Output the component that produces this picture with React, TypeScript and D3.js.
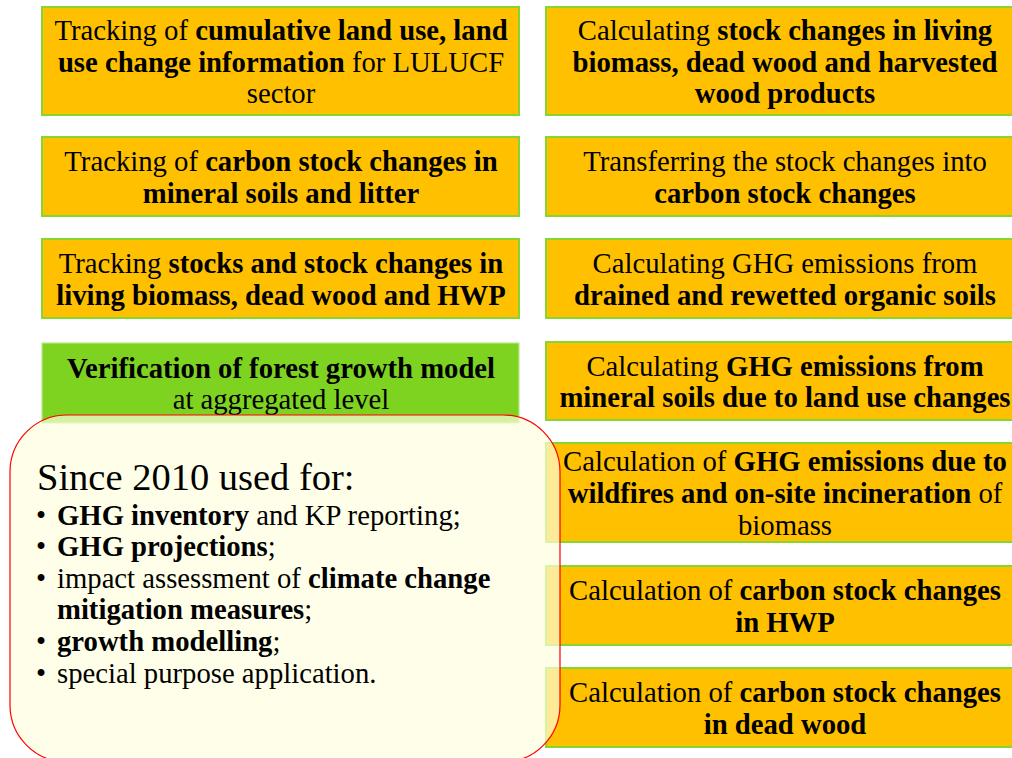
import React from "react";
import * as d3 from "d3";

type Seg = [string, boolean];

const leftTexts: Seg[][][] = [
  [
    [["Tracking of ", false], ["cumulative land use, land", true]],
    [["use change information", true], [" for LULUCF", false]],
    [["sector", false]],
  ],
  [
    [["Tracking of ", false], ["carbon stock changes in", true]],
    [["mineral soils and litter", true]],
  ],
  [
    [["Tracking ", false], ["stocks and stock changes in", true]],
    [["living biomass, dead wood and HWP", true]],
  ],
  [
    [["Verification of forest growth model", true]],
    [["at aggregated level", false]],
  ],
];

const rightTexts: Seg[][][] = [
  [
    [["Calculating ", false], ["stock changes in living", true]],
    [["biomass, dead wood and harvested", true]],
    [["wood products", true]],
  ],
  [
    [["Transferring the stock changes into", false]],
    [["carbon stock changes", true]],
  ],
  [
    [["Calculating GHG emissions from", false]],
    [["drained and rewetted organic soils", true]],
  ],
  [
    [["Calculating ", false], ["GHG emissions from", true]],
    [["mineral soils due to land use changes", true]],
  ],
  [
    [["Calculation of ", false], ["GHG emissions due to", true]],
    [["wildfires and on-site incineration", true], [" of", false]],
    [["biomass", false]],
  ],
  [
    [["Calculation of ", false], ["carbon stock changes", true]],
    [["in HWP", true]],
  ],
  [
    [["Calculation of ", false], ["carbon stock changes", true]],
    [["in dead wood", true]],
  ],
];

const leftFills = ["#FFC000", "#FFC000", "#FFC000", "#7ED321"];

const heading = "Since 2010 used for:";

const bulletItems: Seg[][][] = [
  [[["GHG inventory", true], [" and KP reporting;", false]]],
  [[["GHG projections", true], [";", false]]],
  [
    [["impact assessment of ", false], ["climate change", true]],
    [["mitigation measures", true], [";", false]],
  ],
  [[["growth modelling", true], [";", false]]],
  [[["special purpose application.", false]]],
];

// layout
const leftRows: [number, number][] = [
  [7, 115],
  [137, 216],
  [239, 318],
  [343, 423],
];
const rightRows: [number, number][] = [
  [7, 115],
  [137, 216],
  [239, 318],
  [342, 420],
  [443, 542],
  [566, 645],
  [668, 747],
];

const W = 1012;
const H = 758;
const FONT = "Liberation Serif";
const LH = 31.8;
const FS = 28.7;

const xCol = d3.scaleOrdinal<string, number>().domain(["L", "R"]).range([42, 546]);
const boxW = 478;

function Lines({ lines, cx, cy }: { lines: Seg[][]; cx: number; cy: number }) {
  const n = lines.length;
  return (
    <text
      fontFamily={FONT}
      fontSize={FS}
      fill="#000"
      textAnchor="middle"
      style={{ whiteSpace: "pre", fontFamily: FONT }}
    >
      {lines.map((line, i) => {
        const y = cy + (i - (n - 1) / 2) * LH + 10.5;
        return line.map((seg, j) => (
          <tspan
            key={i + "-" + j}
            x={j === 0 ? cx : undefined}
            y={j === 0 ? y : undefined}
            fontWeight={seg[1] ? "bold" : "normal"}
          >
            {seg[0]}
          </tspan>
        ));
      })}
    </text>
  );
}

export default function App() {
  const bulletLines: { segs: Seg[]; first: boolean }[] = [];
  bulletItems.forEach((item) =>
    item.forEach((line, i) => bulletLines.push({ segs: line, first: i === 0 }))
  );
  const by = d3.scaleLinear().domain([0, 1]).range([524.5, 524.5 + 31.6]);

  return (
    <svg
      width={W}
      height={H}
      style={{ position: "absolute", left: 0, top: 0, background: "#fff", fontFamily: FONT }}
    >
      {leftRows.map(([y0, y1], i) => (
        <g key={"l" + i}>
          <rect
            x={xCol("L")}
            y={y0}
            width={boxW - 1}
            height={y1 - y0}
            fill={leftFills[i]}
            stroke={i === 3 ? "#B9E68C" : "#86D630"}
            strokeWidth={i === 3 ? 1.2 : 2}
          />
          <Lines lines={leftTexts[i]} cx={xCol("L") + boxW / 2} cy={(y0 + y1) / 2} />
        </g>
      ))}
      {rightRows.map(([y0, y1], i) => (
        <g key={"r" + i}>
          <rect
            x={xCol("R")}
            y={y0}
            width={boxW}
            height={y1 - y0}
            fill="#FFC000"
            stroke="#86D630"
            strokeWidth={2}
          />
          <Lines lines={rightTexts[i]} cx={xCol("R") + boxW / 2} cy={(y0 + y1) / 2} />
        </g>
      ))}

      <rect
        x={10}
        y={415}
        width={550}
        height={347}
        rx={57}
        ry={57}
        fill="#FFFFDF"
        fillOpacity={0.68}
        stroke="#FF0000"
        strokeWidth={1.2}
      />
      <text x={37} y={490} fontFamily={FONT} fontSize={38.5} fill="#000">
        {heading}
      </text>
      {bulletLines.map((bl, i) => (
        <g key={"b" + i}>
          {bl.first && (
            <text x={36} y={by(i)} fontFamily={FONT} fontSize={FS} fill="#000">
              •
            </text>
          )}
          <text
            x={57}
            y={by(i)}
            fontFamily={FONT}
            fontSize={FS}
            fill="#000"
            style={{ whiteSpace: "pre" }}
          >
            {bl.segs.map((s, j) => (
              <tspan key={j} fontWeight={s[1] ? "bold" : "normal"}>
                {s[0]}
              </tspan>
            ))}
          </text>
        </g>
      ))}
    </svg>
  );
}
